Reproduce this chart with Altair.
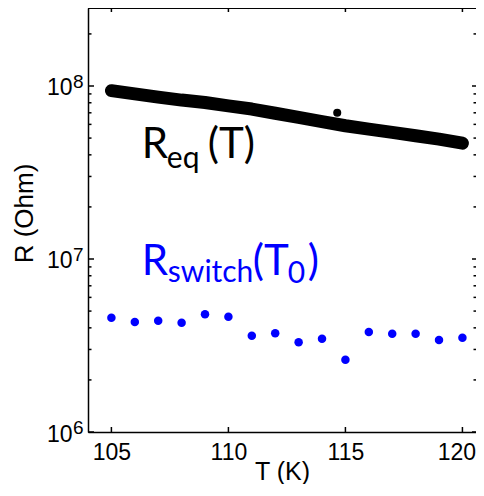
import altair as alt
import pandas as pd

# ---- data ----
T_eq = [105, 106, 107, 108, 109, 110, 111, 112, 113, 114, 115, 116, 117, 118, 119, 120]
R_eq = [9.40e7, 9.00e7, 8.62e7, 8.29e7, 8.03e7, 7.68e7, 7.36e7, 6.96e7,
        6.58e7, 6.22e7, 5.89e7, 5.63e7, 5.39e7, 5.16e7, 4.93e7, 4.67e7]
T_out = [114.65]
R_out = [7.01e7]

T_sw = [105, 106, 107, 108, 109, 110, 111, 112, 113, 114, 115, 116, 117, 118, 119, 120]
R_sw = [4.58e6, 4.32e6, 4.40e6, 4.28e6, 4.79e6, 4.64e6, 3.60e6, 3.72e6,
        3.30e6, 3.46e6, 2.62e6, 3.78e6, 3.70e6, 3.70e6, 3.40e6, 3.51e6]

x_ticks = [105, 110, 115, 120]
y_major = [1e6, 1e7, 1e8]
y_exp = ["6", "7", "8"]
y_minor = [2e6, 3e6, 4e6, 5e6, 6e6, 7e6, 8e6, 9e6,
           2e7, 3e7, 4e7, 5e7, 6e7, 7e7, 8e7, 9e7, 2e8]

# annotation anchors (data coordinates) and pieces
eq_anchor = (106.3, 3.82e7)
sw_anchor = (106.3, 8.1e6)
eq_pieces = [("R", 0, 0, 42), ("eq", 25, 10, 30), ("(T)", 66, 0, 42)]
sw_pieces = [("R", 0, 0, 42), ("switch", 26, 7, 30), ("(T", 111, 0, 42),
             ("0", 146, 8, 30), (")", 166, 0, 42)]

W, H = 388, 424
AXF = "Liberation Sans"
TXF = "Lato"

xscale = alt.Scale(domain=[104, 120.58], nice=False, zero=False)
yscale = alt.Scale(type="log", domain=[1e6, 2.824e8], nice=False)

xaxis = alt.Axis(values=x_ticks, ticks=False, grid=False, labelFont=AXF,
                 labelFontSize=23, labelColor="black", labelPadding=9,
                 labelOffset={"condition": {"test": "datum.value == 120",
                                            "value": -6}, "value": 0},
                 domainColor="black", domainWidth=1.5, title="T (K)",
                 titleFont=AXF, titleFontSize=25, titleFontWeight="normal",
                 titleColor="black", titleY=47, titleBaseline="alphabetic")
yaxis = alt.Axis(values=y_major, ticks=False, grid=False, labelExpr="'10'",
                 labelFont=AXF, labelFontSize=23, labelColor="black",
                 labelPadding=16, labelBaseline="middle", labelOffset=2,
                 domainColor="black", domainWidth=1.5, title="R (Ohm)",
                 titleFont=AXF, titleFontSize=26, titleFontWeight="normal",
                 titleColor="black", titleX=-56, titleY=205,
                 titleBaseline="alphabetic", titleAngle=270)


def X(f):
    return alt.X(f"{f}:Q", scale=xscale, axis=xaxis)


def Y(f):
    return alt.Y(f"{f}:Q", scale=yscale, axis=yaxis)


df_eq = pd.DataFrame({"T": T_eq, "R": R_eq})
df_out = pd.DataFrame({"T": T_out, "R": R_out})
df_sw = pd.DataFrame({"T": T_sw, "R": R_sw})
df_xt = pd.DataFrame({"T": x_ticks})
df_ymaj = pd.DataFrame({"R": y_major, "e": y_exp})
df_ymin = pd.DataFrame({"R": y_minor})

rule = dict(color="black", strokeWidth=1.5)
layers = []
# frame top line
layers.append(alt.Chart(df_xt).mark_rule(**rule).encode(
    x=alt.value(0), x2=alt.value(W), y=alt.value(0)))
# inward ticks
layers.append(alt.Chart(df_xt).mark_rule(**rule).encode(
    x=X("T"), y=alt.value(H), y2=alt.value(H - 5)))
layers.append(alt.Chart(df_xt).mark_rule(**rule).encode(
    x=X("T"), y=alt.value(0), y2=alt.value(4)))
layers.append(alt.Chart(df_ymaj).mark_rule(**rule).encode(
    y=Y("R"), x=alt.value(0), x2=alt.value(6)))
layers.append(alt.Chart(df_ymin).mark_rule(**rule).encode(
    y=Y("R"), x=alt.value(0), x2=alt.value(3.5)))
layers.append(alt.Chart(df_ymaj).mark_rule(**rule).encode(
    y=Y("R"), x=alt.value(W), x2=alt.value(W - 4)))
layers.append(alt.Chart(df_ymin).mark_rule(**rule).encode(
    y=Y("R"), x=alt.value(W), x2=alt.value(W - 2.5)))
# exponent superscripts of the y labels
layers.append(alt.Chart(df_ymaj).mark_text(
    align="left", baseline="alphabetic", font=AXF, fontSize=19,
    color="black", dy=2).encode(y=Y("R"), x=alt.value(-15), text="e:N"))

# data
layers.append(alt.Chart(df_eq).mark_line(
    color="black", strokeWidth=13, strokeCap="round", strokeJoin="round"
).encode(x=X("T"), y=Y("R")))
layers.append(alt.Chart(df_out).mark_circle(
    color="black", size=65, opacity=1).encode(x=X("T"), y=Y("R")))
layers.append(alt.Chart(df_sw).mark_circle(
    color="#0000ff", size=72, opacity=1).encode(x=X("T"), y=Y("R")))

# annotations
for anchor, pieces, col in [(eq_anchor, eq_pieces, "black"),
                            (sw_anchor, sw_pieces, "#0000ff")]:
    for txt, dx, dy, fs in pieces:
        d = pd.DataFrame({"T": [anchor[0]], "R": [anchor[1]], "s": [txt]})
        layers.append(alt.Chart(d).mark_text(
            align="left", baseline="alphabetic", font=TXF, fontSize=fs,
            color=col, dx=dx, dy=dy).encode(x=X("T"), y=Y("R"), text="s:N"))

chart = alt.layer(*layers).properties(
    width=W, height=H,
    autosize=alt.AutoSizeParams(type="none"),
    padding={"left": 80, "top": 0, "right": 0, "bottom": 52},
).configure_view(stroke=None)

chart.save("out.html", embed_options={"renderer": "svg", "actions": False})
